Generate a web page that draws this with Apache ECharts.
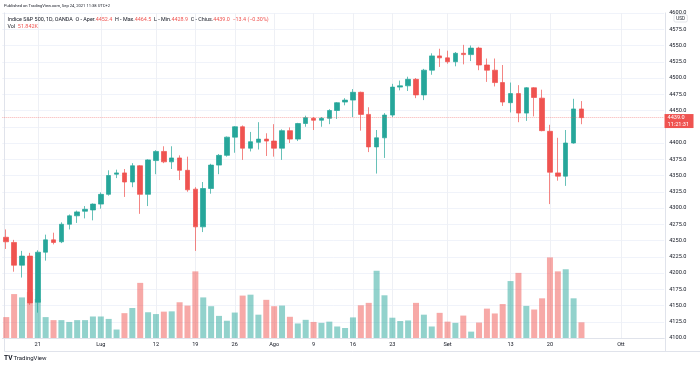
<!DOCTYPE html>
<html><head><meta charset="utf-8">
<script src="https://cdn.jsdelivr.net/npm/echarts@6/dist/echarts.min.js"></script>
<style>html,body{margin:0;padding:0;background:#fff}#c{width:700px;height:367px}</style>
</head><body><div id="c"></div>
<script>
const dates = [
 '2021-06-15','2021-06-16','2021-06-17','2021-06-18','2021-06-21','2021-06-22','2021-06-23','2021-06-24','2021-06-25','2021-06-28','2021-06-29','2021-06-30',
 '2021-07-01','2021-07-02','2021-07-05','2021-07-06','2021-07-07','2021-07-08','2021-07-09','2021-07-12','2021-07-13','2021-07-14','2021-07-15','2021-07-16',
 '2021-07-19','2021-07-20','2021-07-21','2021-07-22','2021-07-23','2021-07-26','2021-07-27','2021-07-28','2021-07-29','2021-07-30',
 '2021-08-02','2021-08-03','2021-08-04','2021-08-05','2021-08-06','2021-08-09','2021-08-10','2021-08-11','2021-08-12','2021-08-13',
 '2021-08-16','2021-08-17','2021-08-18','2021-08-19','2021-08-20','2021-08-23','2021-08-24','2021-08-25','2021-08-26','2021-08-27','2021-08-30','2021-08-31',
 '2021-09-01','2021-09-02','2021-09-03','2021-09-06','2021-09-07','2021-09-08','2021-09-09','2021-09-10','2021-09-13','2021-09-14','2021-09-15','2021-09-16','2021-09-17',
 '2021-09-20','2021-09-21','2021-09-22','2021-09-23','2021-09-24',
 '2021-09-27','2021-09-28','2021-09-29','2021-09-30','2021-10-01','2021-10-04','2021-10-05','2021-10-06','2021-10-07','2021-10-08'
];
const opens = [4255,4247,4212,4226,4155,4232,4251,4248,4275,4288,4295,4297,4306,4321,4352,4354,4340,4365,4321,4373,4387,4371,4377,4358,4329,4271,4330,4366,4381,4409,4425,4392,4401,4406,4403,4392,4419,4406,4430,4438,4435,4438,4450,4463,4466,4478,4444,4394,4408,4443,4486,4488,4498,4474,4512,4534,4531,4525,4538,4536,4546,4520,4512,4493,4462,4476,4446,4485,4469,4418,4354,4349,4400,4452.4];
const highs = [4267,4251,4234,4231,4235,4259,4262,4278,4290,4296,4303,4307,4324,4358,4359,4360,4369,4366,4375,4389,4395,4395,4381,4379,4332,4340,4368,4383,4410,4426,4427,4417,4432,4415,4429,4421,4424,4431,4442,4440,4440,4452,4463,4469,4483,4479,4455,4420,4446,4491,4496,4502,4500,4514,4538,4545,4542,4540,4551,4550,4548,4530,4530,4520,4493,4489,4486,4486,4482,4428,4408,4420,4468,4464.5];
const lows = [4237,4202,4193,4151,4139,4219,4244,4246,4267,4277,4284,4281,4299,4319,4346,4317,4332,4291,4303,4352,4369,4360,4343,4325,4234,4263,4322,4352,4379,4385,4374,4387,4390,4380,4379,4374,4400,4403,4425,4420,4425,4429,4437,4458,4440,4419,4386,4353,4377,4440,4481,4480,4469,4466,4505,4517,4522,4518,4521,4526,4512,4494,4487,4457,4447,4432,4434,4441,4418,4306,4342,4334,4399,4428.9];
const closes = [4248,4212,4226,4154,4232,4251,4247,4275,4288,4294,4298,4306,4321,4350,4354,4340,4365,4321,4374,4387,4371,4377,4358,4328,4271,4330,4366,4381,4409,4425,4392,4402,4406,4403,4392,4419,4406,4430,4439,4435,4438,4450,4462,4466,4478,4444,4394,4408,4443,4486,4488,4498,4474,4512,4534,4531,4525,4538,4536,4546,4520,4512,4493,4463,4476,4446,4485,4470,4419,4355,4349,4400,4452.4,4439.0];
const volumesK = [69,145,134,152,129,69,59,59,53,59,59,71,71,63,28,82,99,182,85,79,87,88,118,107,220,134,105,73,57,84,140,143,77,126,105,107,70,48,60,53,50,54,38,33,68,108,116,222,141,67,56,58,116,77,38,83,54,50,74,21,51,97,81,112,188,215,106,94,131,266,220,227,131,51.842];
const tickDates = ['2021-06-21','2021-07-01','2021-07-12','2021-07-19','2021-07-26','2021-08-02','2021-08-09','2021-08-16','2021-08-23','2021-09-01','2021-09-13','2021-09-20','2021-10-01'];
const tickLabels = ['21','Lug','12','19','26','Ago','9','16','23','Set','13','20','Ott'];
const priceMin = 4100, priceMax = 4600, priceStep = 25;
const clockText = '11:21:31';

const UP = '#26a69a', DOWN = '#ef5350';
const UPV = 'rgba(38,166,154,0.5)', DOWNV = 'rgba(239,83,80,0.5)';
const FONT = 'Roboto, "Liberation Sans", sans-serif';
const SLOT = 7.88, GRID_LEFT = 2.3, GRID_TOP = 13, GRID_H = 325;
const GRID_W = dates.length * SLOT;
const VOL_MAX = 1073;

const candleData = dates.map((d, i) => i < closes.length ? [opens[i], closes[i], lows[i], highs[i]] : '-');
const volData = dates.map((d, i) => i < volumesK.length ? {value: volumesK[i], itemStyle: {color: closes[i] >= opens[i] ? UPV : DOWNV}} : '-');

const n = closes.length - 1;
const last = closes[n], prev = closes[n - 1];
const chg = last - prev, pct = chg / prev * 100;
const fmt = v => v.toFixed(1);
const sgn = (v, d) => (v < 0 ? '\u2212' : '+') + Math.abs(v).toFixed(d);

const chart = echarts.init(document.getElementById('c'), null, {renderer: 'canvas'});
chart.setOption({
  animation: false,
  backgroundColor: '#ffffff',
  textStyle: {fontFamily: FONT},
  grid: [{left: GRID_LEFT, top: GRID_TOP, width: GRID_W, height: GRID_H, containLabel: false, outerBoundsMode: 'none'}],
  xAxis: [{
    type: 'category', data: dates, gridIndex: 0, boundaryGap: true,
    axisLine: {show: true, lineStyle: {color: '#e0e3eb', width: 1}},
    axisTick: {show: false},
    axisLabel: {
      interval: (i, v) => tickDates.indexOf(v) >= 0,
      formatter: v => tickLabels[tickDates.indexOf(v)] || '',
      fontSize: 5.6, color: '#131722', margin: 4, fontFamily: FONT
    },
    splitLine: {show: false}
  }],
  yAxis: [{
    type: 'value', gridIndex: 0, position: 'right', min: priceMin, max: priceMax, interval: priceStep,
    axisLine: {show: false}, axisTick: {show: false},
    axisLabel: {formatter: v => v.toFixed(1), fontSize: 5.6, color: '#131722', margin: 5, fontFamily: FONT, showMinLabel: true, showMaxLabel: true},
    splitLine: {show: true, lineStyle: {color: '#f0f3fa', width: 1}}
  }, {
    type: 'value', gridIndex: 0, min: 0, max: VOL_MAX, show: false,
    axisLabel: {show: false}, splitLine: {show: false}
  }],
  series: [{
    type: 'bar', name: 'Vol', xAxisIndex: 0, yAxisIndex: 1, data: volData, barWidth: 6, z: 1,
    markLine: {
      silent: true, z: 0, symbol: ['none', 'none'], animation: false,
      label: {show: false},
      lineStyle: {color: '#eef0f5', type: 'solid', width: 1},
      emphasis: {disabled: true},
      data: tickDates.map(d => ({xAxis: d}))
    }
  }, {
    type: 'candlestick', name: 'Indice S&P 500', xAxisIndex: 0, yAxisIndex: 0, data: candleData, barWidth: 5, z: 3,
    itemStyle: {color: UP, color0: DOWN, borderColor: 'rgba(38,166,154,0.7)', borderColor0: 'rgba(239,83,80,0.7)', borderWidth: 1},
    markLine: {
      silent: true, symbol: ['none', 'none'], animation: false,
      label: {show: false},
      lineStyle: {color: 'rgba(239,83,80,0.45)', type: 'dotted', width: 1},
      emphasis: {disabled: true},
      data: [{yAxis: last}]
    }
  }]
});

const yPix = chart.convertToPixel({yAxisIndex: 0}, last);
const axisX = GRID_LEFT + GRID_W;
const txt = (x, y, text, size, fill, extra) => Object.assign({
  type: 'text', silent: true,
  style: Object.assign({x: x, y: y, text: text, font: size + 'px ' + FONT, fill: fill,
    align: 'left', verticalAlign: 'middle', textAlign: 'left', textVerticalAlign: 'middle'}, extra || {})
});
const line = (x1, y1, x2, y2, c) => ({type: 'line', silent: true, shape: {x1, y1, x2, y2}, style: {stroke: c, lineWidth: 1}});
const LF = '5.4px ' + FONT;

chart.setOption({
  graphic: [
    line(4.5, 12.5, 4.5, 351.5, '#e0e3eb'),
    line(665.5, 12.5, 665.5, 351.5, '#e0e3eb'),
    line(4.5, 351.5, 700, 351.5, '#e0e3eb'),
    txt(4, 5.5, 'Published on TradingView.com, Sep 24, 2021 11:38 UTC+2', 4.1, '#131722'),
    {type: 'text', silent: true, style: {x: 7.5, y: 19.3, font: LF, align: 'left', verticalAlign: 'middle', textAlign: 'left', textVerticalAlign: 'middle',
      text: '{d|Indice S&P 500, 1D, OANDA  O - Aper.}{r|' + fmt(opens[n]) + '}{d|  H - Max.}{r|' + fmt(highs[n]) + '}{d|  L - Min.}{r|' + fmt(lows[n]) + '}{d|  C - Chius.}{r|' + fmt(last) + '}{d|  }{r|' + sgn(chg, 1) + ' (' + sgn(pct, 2) + '%)}',
      rich: {d: {fill: '#131722', font: LF}, r: {fill: DOWN, font: LF}}}},
    {type: 'text', silent: true, style: {x: 7.5, y: 26.7, font: LF, align: 'left', verticalAlign: 'middle', textAlign: 'left', textVerticalAlign: 'middle',
      text: '{d|Vol  }{r|' + volumesK[n].toFixed(3) + 'K}',
      rich: {d: {fill: '#131722', font: LF}, r: {fill: DOWN, font: LF}}}},
    {type: 'rect', silent: true, shape: {x: 674, y: 14.7, width: 13.3, height: 7.3, r: 1.5}, style: {fill: '#fff', stroke: '#d1d4dc', lineWidth: 0.6}, z: 10},
    Object.assign(txt(680.6, 18.4, 'USD', 4.6, '#131722', {align: 'center', textAlign: 'center'}), {z: 11}),
    {type: 'rect', silent: true, shape: {x: axisX + 0.3, y: yPix - 3.6, width: 29, height: 14}, style: {fill: DOWN}, z: 10},
    Object.assign(txt(axisX + 3.3, yPix + 0.2, fmt(last), 5.6, '#ffffff'), {z: 11}),
    Object.assign(txt(axisX + 3.3, yPix + 6.7, clockText, 5.6, '#ffffff'), {z: 11}),
    txt(4, 358.3, 'TV', 6.6, '#131722', {font: 'bold 6.6px ' + FONT}),
    txt(13.5, 358.3, 'TradingView', 6, '#131722')
  ]
});
</script></body></html>
